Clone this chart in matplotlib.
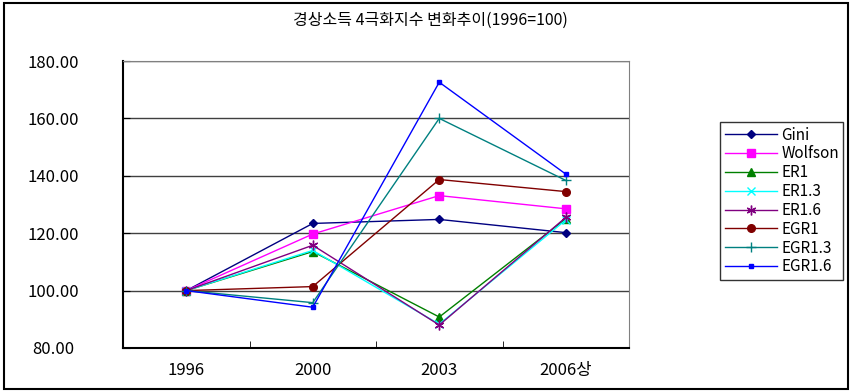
import matplotlib
matplotlib.use("Agg")
import matplotlib.pyplot as plt
from matplotlib.patches import Rectangle

plt.rcParams['font.family'] = ['Noto Sans CJK KR', 'DejaVu Sans']

# data (1996 = 100)
years = ['1996', '2000', '2003', '2006상']
gini = [100.0, 123.4, 124.8, 120.2]
wolfson = [100.0, 119.7, 133.1, 128.5]
er1 = [100.0, 113.6, 90.8, 125.0]
er13 = [100.0, 114.0, 88.3, 124.6]
er16 = [100.0, 115.8, 88.0, 125.5]
egr1 = [100.0, 101.4, 138.7, 134.5]
egr13 = [100.0, 95.8, 160.0, 138.4]
egr16 = [100.0, 94.2, 172.6, 140.6]

series = [
    ('Gini', gini, '#000080', 'D', 4.5),
    ('Wolfson', wolfson, '#FF00FF', 's', 6),
    ('ER1', er1, '#008000', '^', 6),
    ('ER1.3', er13, '#00FFFF', 'x', 5.5),
    ('ER1.6', er16, '#800080', (6, 2, 0), 7),
    ('EGR1', egr1, '#800000', 'o', 5.5),
    ('EGR1.3', egr13, '#008080', '+', 6.5),
    ('EGR1.6', egr16, '#0000FF', 's', 3.5),
]

fig = plt.figure(figsize=(8.51, 3.92), dpi=100)
ax = fig.add_axes([123/851, 1-348/392, 506/851, 287/392])

x = range(len(years))
for name, vals, col, mk, ms in series:
    ax.plot(x, vals, color=col, marker=mk, markersize=ms, linewidth=1,
            markeredgecolor=col, markerfacecolor=col, label=name)

ax.set_xlim(-0.5, 3.5)
ax.set_ylim(80, 180)
ax.set_yticks([80, 100, 120, 140, 160, 180])
ax.set_yticklabels(['%.2f' % v for v in [80, 100, 120, 140, 160, 180]], fontsize=12)
ax.yaxis.grid(True, color='#404040', linewidth=1)
ax.set_axisbelow(True)

ax.set_xticks(list(x))
ax.set_xticklabels(years, fontsize=12)
ax.set_xticks([0.5, 1.5, 2.5], minor=True)
ax.tick_params(axis='x', which='major', length=0, pad=10)
ax.tick_params(axis='x', which='minor', length=5, direction='in', color='black')
ax.tick_params(axis='y', length=5, direction='in', pad=50)
for lbl in ax.get_yticklabels():
    lbl.set_horizontalalignment('center')

ax.spines['left'].set_color('black')
ax.spines['left'].set_linewidth(1.5)
ax.spines['bottom'].set_color('black')
ax.spines['bottom'].set_linewidth(1.5)
ax.spines['top'].set_color('#808080')
ax.spines['right'].set_color('#808080')

fig.text(430/851, 1-20/392, '경상소득 4극화지수 변화추이(1996=100)', ha='center', va='center', fontsize=11.5)

leg = fig.legend(loc='upper left', bbox_to_anchor=(720/851, 1-122/392), fontsize=11,
                 frameon=True, fancybox=False, edgecolor='black', handlelength=3.4,
                 labelspacing=0.12, borderpad=0.3, handletextpad=0.3, borderaxespad=0)
leg.get_frame().set_linewidth(1)

fig.patches.append(Rectangle((4/851, 3/392), 844/851, 386/392, transform=fig.transFigure,
                             fill=False, edgecolor='black', linewidth=1.5))

fig.savefig('out.png', dpi=100)
